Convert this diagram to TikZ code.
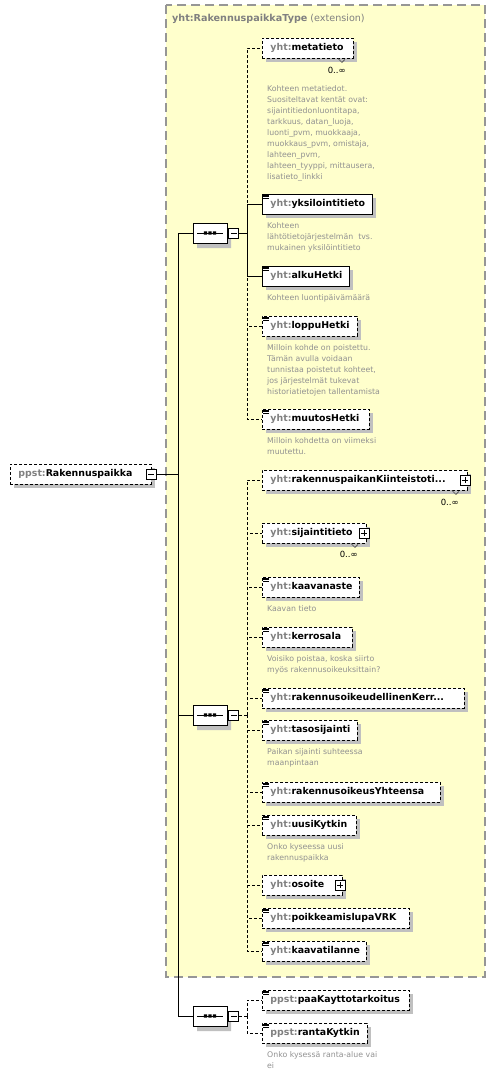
\documentclass[tikz,border=0pt]{standalone}
\usepackage{fontspec}
\setmainfont{DejaVu Sans}
\usetikzlibrary{positioning,shapes.misc,shadows}
\definecolor{extfill}{RGB}{255,255,204}
\definecolor{extline}{RGB}{150,150,150}
\definecolor{pfxgray}{RGB}{128,128,128}
\definecolor{descgray}{RGB}{145,145,145}
\definecolor{shadowgray}{RGB}{192,192,192}
\newcommand{\el}[2]{\mbox{\textcolor{pfxgray}{#1:}#2}}
\begin{document}
\begin{tikzpicture}[x=1pt,y=-1pt,
            req/.style={rectangle, draw, fill=white, line width=0.9pt, anchor=west, minimum height=20pt, inner xsep=8pt, inner ysep=0pt, align=left, font=\fontsize{9.4}{11}\selectfont\bfseries, drop shadow={shadow xshift=4pt, shadow yshift=-4pt, fill=shadowgray, opacity=1}},
            opt/.style={req, dash pattern=on 3pt off 2pt},
            seqbox/.style={chamfered rectangle, chamfered rectangle xsep=5pt, chamfered rectangle ysep=5pt, draw, fill=white, line width=0.9pt, minimum width=34pt, minimum height=20pt, inner sep=0pt, drop shadow={shadow xshift=4pt, shadow yshift=-5pt, fill=shadowgray, opacity=1}},
            minus/.style={rectangle, draw, fill=white, line width=0.8pt, minimum size=10pt, inner sep=0pt, path picture={\draw[line width=0.8pt] ([xshift=2pt]path picture bounding box.west) -- ([xshift=-2pt]path picture bounding box.east);}},
            plus/.style={rectangle, draw, fill=white, line width=0.8pt, minimum size=10pt, inner sep=0pt, path picture={\draw[line width=0.8pt] ([xshift=2pt]path picture bounding box.west) -- ([xshift=-2pt]path picture bounding box.east); \draw[line width=0.8pt] ([yshift=-2pt]path picture bounding box.north) -- ([yshift=2pt]path picture bounding box.south);}},
            desc/.style={inner sep=0pt, align=left, text=descgray, font=\fontsize{7.8}{11}\selectfont},
            mult/.style={inner sep=0pt, font=\fontsize{8.5}{10}\selectfont},
            conn/.style={line width=0.9pt},
            optconn/.style={conn, dash pattern=on 3pt off 2pt},
            icon/.style={line width=0.55pt},
            notch/.style={line width=0.6pt, black!70},
        ]
            \useasboundingbox (0,0) rectangle (495,1077);

            %Extension
            \draw[fill=extfill, draw=extline, line width=1.2pt, dash pattern=on 9pt off 5pt] (166,5) rectangle (485,977);
            \node[anchor=west, inner sep=0pt, text=pfxgray, font=\fontsize{9.6}{11}\selectfont] (exttitle) at (172,19) {\textbf{yht:RakennuspaikkaType} (extension)};

            %Nodes
            \node[opt, text width=125] (root) at (10,474) {\el{ppst}{Rakennuspaikka}};

            \node[seqbox] (seqa) at (210,233) {};
            \node[seqbox] (seqb) at (210,715) {};
            \node[seqbox] (seqc) at (210,1016) {};

            \node[opt, text width=75] (metatieto) at (262,48) {\el{yht}{metatieto}};
            \node[req, text width=94] (yksil) at (262,204) {\el{yht}{yksilointitieto}};
            \node[req, text width=71] (alku) at (262,276) {\el{yht}{alkuHetki}};
            \node[opt, text width=79] (loppu) at (262,326) {\el{yht}{loppuHetki}};
            \node[opt, text width=91] (muutos) at (262,419) {\el{yht}{muutosHetki}};

            \node[opt, text width=189] (rakp) at (262,480) {\el{yht}{rakennuspaikanKiinteistoti...}};
            \node[opt, text width=88] (sijainti) at (262,533) {\el{yht}{sijaintitieto}};
            \node[opt, text width=81] (kaavanaste) at (262,587) {\el{yht}{kaavanaste}};
            \node[opt, text width=74] (kerrosala) at (262,637) {\el{yht}{kerrosala}};
            \node[opt, text width=186] (rakoik) at (262,698) {\el{yht}{rakennusoikeudellinenKerr...}};
            \node[opt, text width=79] (taso) at (262,730) {\el{yht}{tasosijainti}};
            \node[opt, text width=162] (rakyht) at (262,792) {\el{yht}{rakennusoikeusYhteensa}};
            \node[opt, text width=78] (uusi) at (262,825) {\el{yht}{uusiKytkin}};
            \node[opt, text width=64] (osoite) at (262,885) {\el{yht}{osoite}};
            \node[opt, text width=131] (poikk) at (262,918) {\el{yht}{poikkeamislupaVRK}};
            \node[opt, text width=88] (kaavatil) at (262,951) {\el{yht}{kaavatilanne}};

            \node[opt, text width=131] (paak) at (262,1000) {\el{ppst}{paaKayttotarkoitus}};
            \node[opt, text width=89] (ranta) at (262,1033) {\el{ppst}{rantaKytkin}};

            %Descriptions
            \node[desc, below right=27pt and 5pt of metatieto.south west] (metatietod) {Kohteen metatiedot.\\Suositeltavat kentät ovat:\\sijaintitiedonluontitapa,\\tarkkuus, datan\_luoja,\\luonti\_pvm, muokkaaja,\\muokkaus\_pvm, omistaja,\\lahteen\_pvm,\\lahteen\_tyyppi, mittausera,\\lisatieto\_linkki};
            \node[desc, below right=8pt and 5pt of yksil.south west] (yksild) {Kohteen\\lähtötietojärjestelmän~ tvs.\\mukainen yksilöintitieto};
            \node[desc, below right=8pt and 5pt of alku.south west] (alkud) {Kohteen luontipäivämäärä};
            \node[desc, below right=8pt and 5pt of loppu.south west] (loppud) {Milloin kohde on poistettu.\\Tämän avulla voidaan\\tunnistaa poistetut kohteet,\\jos järjestelmät tukevat\\historiatietojen tallentamista};
            \node[desc, below right=8pt and 5pt of muutos.south west] (muutosd) {Milloin kohdetta on viimeksi\\muutettu.};
            \node[desc, below right=8pt and 5pt of kaavanaste.south west] (kaavanasted) {Kaavan tieto};
            \node[desc, below right=8pt and 5pt of kerrosala.south west] (kerrosalad) {Voisiko poistaa, koska siirto\\myös rakennusoikeuksittain?};
            \node[desc, below right=8pt and 5pt of taso.south west] (tasod) {Paikan sijainti suhteessa\\maanpintaan};
            \node[desc, below right=8pt and 5pt of uusi.south west] (uusid) {Onko kyseessa uusi\\rakennuspaikka};
            \node[desc, below right=8pt and 5pt of ranta.south west] (rantad) {Onko kysessä ranta-alue vai\\ei};

            %Multiplicities
            \node[mult, below left=9pt and 8pt of metatieto.south east] (metatietom) {0..∞};
            \node[mult, below left=9pt and 9pt of rakp.south east] (rakpm) {0..∞};
            \node[mult, below left=8pt and 9pt of sijainti.south east] (sijaintim) {0..∞};
            \foreach \n in {metatieto, rakp, sijainti}
                \draw[notch] ([xshift=-16pt]\n.south east) -- ++(4pt,-4pt) -- ++(3pt,3pt);

            %Lines
            \node[minus] (rootm) at ([xshift=-1pt]root.east) {};
            \node[minus, right=1pt of seqa] (seqam) {};
            \node[minus, right=1pt of seqb] (seqbm) {};
            \node[minus, right=1pt of seqc] (seqcm) {};
            \coordinate (trunk) at (178,474);
            \coordinate (bra) at (247,233);
            \coordinate (brb) at (247,715);
            \coordinate (brc) at (247,1016);

            \draw[conn] (rootm) -- (trunk);
            \foreach \s in {seqa, seqb, seqc}
                \draw[conn] (trunk) |- (\s.west);

            \draw[conn] (seqam) -- (bra);
            \foreach \c in {yksil, alku}
                \draw[conn] (bra) |- (\c.west);
            \foreach \c in {metatieto, loppu, muutos}
                \draw[optconn] (bra) |- (\c.west);

            \draw[optconn] (seqbm) -- (brb);
            \foreach \c in {rakp, sijainti, kaavanaste, kerrosala, rakoik, taso, rakyht, uusi, osoite, poikk, kaavatil}
                \draw[optconn] (brb) |- (\c.west);

            \draw[optconn] (seqcm) -- (brc);
            \foreach \c in {paak, ranta}
                \draw[optconn] (brc) |- (\c.west);

            %Signs
            \foreach \s in {seqa, seqb, seqc} {
                \draw[line width=0.9pt] ([xshift=-13pt]\s.center) -- ([xshift=13pt]\s.center);
                \foreach \dx in {-4.5, 0, 4.5}
                    \fill ([xshift=\dx pt]\s.center) rectangle ++(1.6pt,1.6pt) rectangle ++(-3.2pt,-3.2pt);
            }
            \node[plus] (rakpp) at ([xshift=-3pt]rakp.east) {};
            \node[plus] (sijaintip) at ([xshift=-3pt]sijainti.east) {};
            \node[plus] (osoitep) at ([xshift=-3pt]osoite.east) {};
            \foreach \n in {yksil, alku, loppu, muutos, kaavanaste, kerrosala, rakoik, taso, rakyht, uusi, poikk, kaavatil, paak, ranta}
                \foreach \dy in {1.4, 3.0, 4.6}
                    \draw[icon] ([xshift=1pt, yshift=-\dy pt]\n.north west) -- ++(6pt,0pt);
        \end{tikzpicture}
\end{document}
